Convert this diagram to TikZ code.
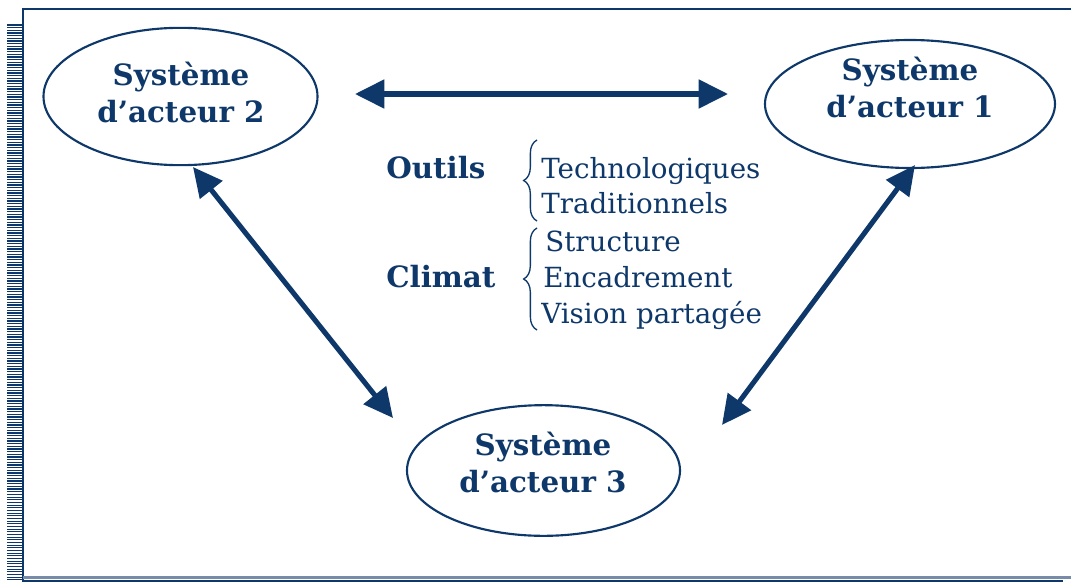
\documentclass[tikz,border=0pt]{standalone}
\usepackage{fontspec}
\setmainfont{DejaVu Serif}
\usetikzlibrary{arrows.meta,decorations.pathreplacing,shapes.geometric}
\definecolor{navy}{RGB}{14,56,106}
\definecolor{lightnavy}{RGB}{120,140,170}
\tikzset{
  ell/.style={draw=navy, line width=1.6pt, ellipse, inner sep=0pt},
  elltext/.style={text=navy, align=center, anchor=base, inner sep=0pt,
    font={\fontsize{22}{27.5}\selectfont\bfseries}},
  lbl/.style={text=navy, anchor=base west, inner sep=0pt, font={\fontsize{22}{26}\selectfont\bfseries}},
  item/.style={text=navy, anchor=base west, inner sep=0pt, font={\fontsize{20.8}{24}\selectfont}},
  dbl/.style={navy, line width=3.8pt, {Triangle[length=22pt,width=21pt]}-{Triangle[length=22pt,width=21pt]}},
  br/.style={navy, line width=1pt, decorate, decoration={brace, amplitude=10pt}},
}
\begin{document}
\begin{tikzpicture}[x=0.75pt,y=-0.75pt]
\useasboundingbox (0,0) rectangle (1071,582);
% frame
\foreach \i in {0,...,208} \draw[navy, line width=0.85pt] (7,25+\i*2.667) -- (22,25+\i*2.667);
\draw[navy, line width=1.8pt] (23,582) -- (23,9) -- (1071,9);
\draw[lightnavy, line width=2pt] (23,577.5) -- (1071,577.5);
\draw[navy, line width=1.1pt] (23,580.8) -- (1063,580.8);
% ellipses
\node[ell, minimum width=205.5pt, minimum height=103pt] (e2) at (180.5,96.5) {};
\node[ell, minimum width=217.5pt, minimum height=96pt] (e1) at (910,104) {};
\node[ell, minimum width=204.75pt, minimum height=98pt] (e3) at (543.5,470.5) {};
\node[elltext] (e2t) at (181,122) {Système\\d’acteur 2};
\node[elltext] (e1t) at (910,117) {Système\\d’acteur 1};
\node[elltext] (e3t) at (543,492) {Système\\d’acteur 3};
% labels
\node[lbl] (outils) at (386,178) {Outils};
\node[lbl] (climat) at (386,287) {Climat};
\node[item] (t1) at (541,178) {Technologiques};
\node[item] (t2) at (541,213) {Traditionnels};
\node[item] (c1) at (545,251) {Structure};
\node[item] (c2) at (543,287) {Encadrement};
\node[item] (c3) at (541,323) {Vision partagée};
% braces
\draw[br] (537,221) -- (537,140);
\draw[br] (537,330) -- (537,228);
% arrows
\coordinate (h2) at (355,94);
\coordinate (h1) at (728,94);
\coordinate (l2) at (193,167);
\coordinate (l3) at (393,418);
\coordinate (r1) at (915,165);
\coordinate (r3) at (722,425);
\draw[dbl] (h2) -- (h1);
\draw[dbl] (l2) -- (l3);
\draw[dbl] (r1) -- (r3);
\end{tikzpicture}
\end{document}
